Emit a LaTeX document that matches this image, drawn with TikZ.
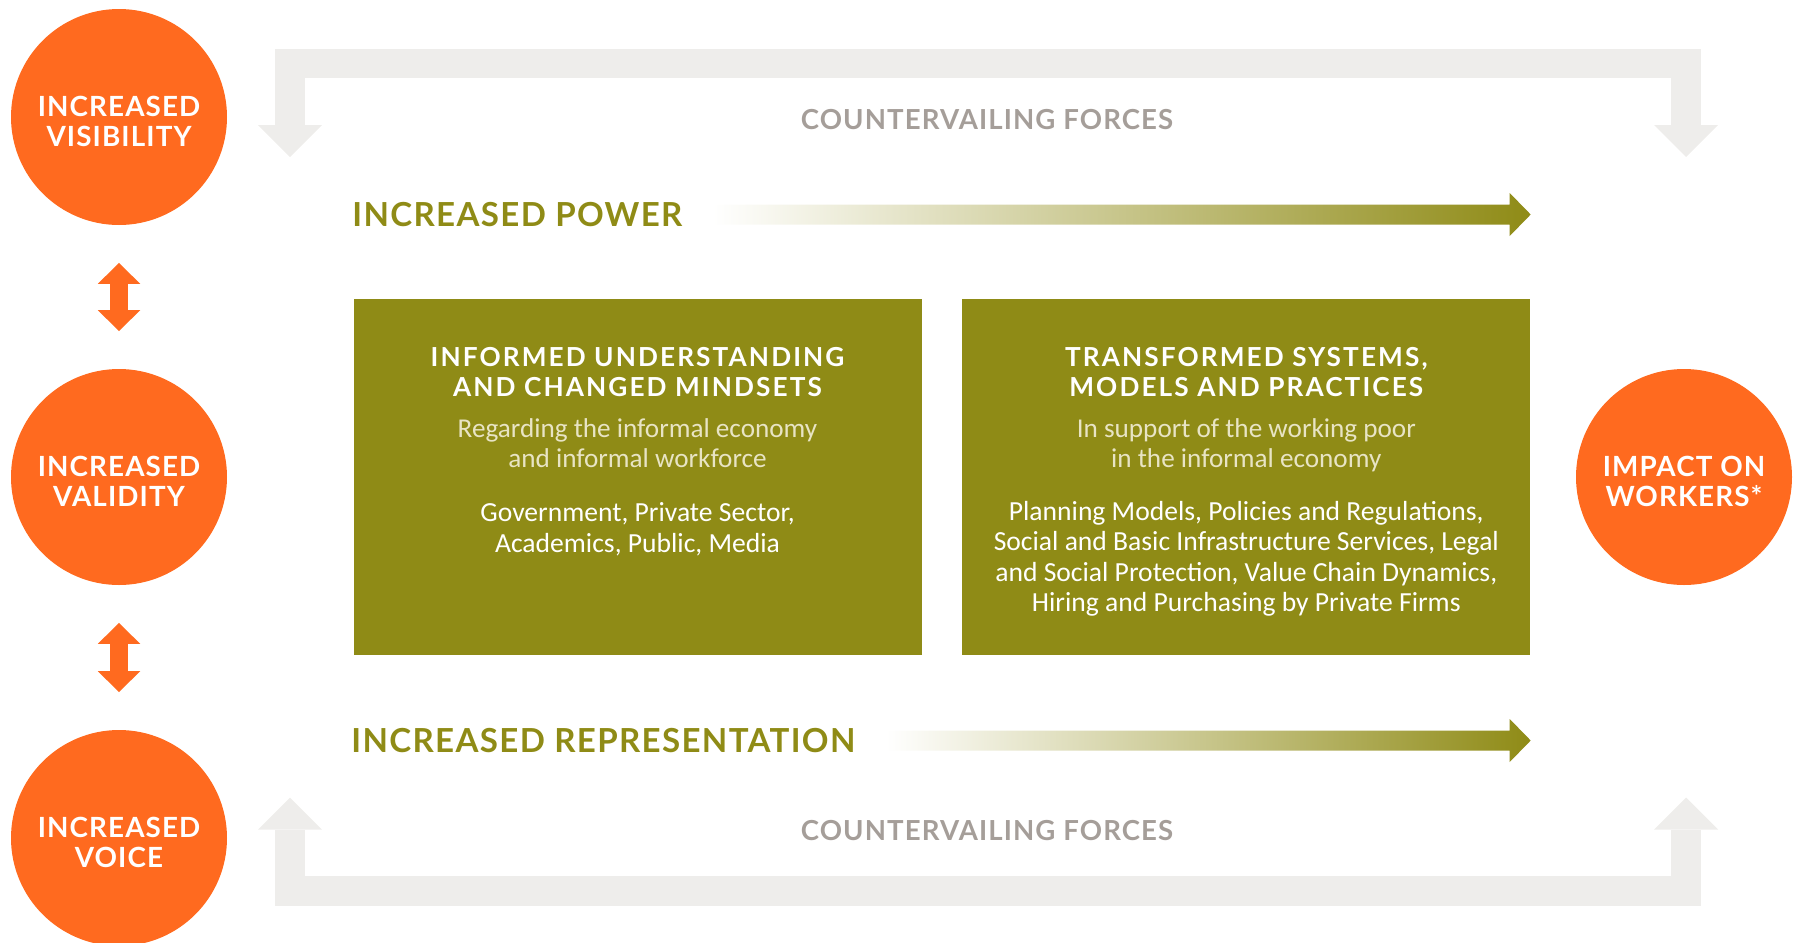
\documentclass[tikz,border=0pt]{standalone}
\usepackage{fontspec}
\setmainfont{Carlito}
\newfontfamily\latofont{Lato}[LetterSpace=4]
\usetikzlibrary{arrows.meta,positioning}

\definecolor{wiegoorange}{HTML}{FF6A1F}
\definecolor{wiegoolive}{HTML}{8F8B16}
\definecolor{forcegrey}{HTML}{EEEDEB}
\definecolor{forcetext}{HTML}{A59E99}
\definecolor{softtext}{HTML}{E8E4C4}

% lowers the two lines a little inside the circles
\newcommand\outtop{\rule{0pt}{14.4pt}}

\begin{document}
\begin{tikzpicture}[
  x = 0.5pt, y = -0.5pt,
  outcome/.style = {circle, fill = wiegoorange, minimum size = 108pt, inner sep = 0pt,
                    text = white, align = center,
                    font = \latofont\bfseries\fontsize{13.9}{15}\selectfont},
  change/.style = {fill = wiegoolive, minimum width = 284pt, minimum height = 178pt, inner sep = 0pt},
  boxhead/.style = {inner sep = 0pt, text = white, align = center,
                    font = \latofont\bfseries\addfontfeatures{LetterSpace=8}\fontsize{13.1}{15}\selectfont},
  boxsoft/.style = {inner sep = 0pt, text = softtext, align = center,
                    font = \fontsize{13.6}{15}\selectfont},
  boxbody/.style = {inner sep = 0pt, text = white, align = center,
                    font = \fontsize{13.8}{15.3}\selectfont},
  driver/.style = {inner sep = 0pt, text = wiegoolive, anchor = west,
                   font = \latofont\bfseries\fontsize{16.55}{19}\selectfont},
  forcelabel/.style = {inner sep = 0pt, text = forcetext,
                       font = \latofont\bfseries\fontsize{13.8}{16}\selectfont},
  force/.style = {draw = forcegrey, line width = 14.75pt, line join = miter,
                  {Triangle[width = 32pt, length = 16pt, line width = 0pt]}-{Triangle[width = 32pt, length = 16pt, line width = 0pt]}},
  link/.style = {draw = wiegoorange, line width = 9.3pt, shorten > = 18.75pt, shorten < = 18.75pt,
                 {Triangle[width = 21.25pt, length = 10.5pt, line width = 0pt]}-{Triangle[width = 21.25pt, length = 10.5pt, line width = 0pt]}},
  growth/.style = {left color = white, right color = wiegoolive}
  ]
  \useasboundingbox (0,0) rectangle (1795,943);

  % countervailing forces
  \coordinate (force tl) at (290,157);
  \coordinate (force tr) at (1686,157);
  \coordinate (force bl) at (290,797.5);
  \coordinate (force br) at (1686,797.5);
  \draw[force] (force tl) -- ++(0,-93.5) -| (force tr);
  \draw[force] (force bl) -- ++(0,93.5) -| (force br);
  \node[forcelabel] (force top) at (987,120) {COUNTERVAILING FORCES};
  \node[forcelabel] (force bottom) at (987,831) {COUNTERVAILING FORCES};

  % outcomes
  \node[outcome] (vis) at (119,117) {\outtop INCREASED\\VISIBILITY};
  \node[outcome] (val) at (119,477) {\outtop INCREASED\\VALIDITY};
  \node[outcome] (voice) at (119,838) {\outtop INCREASED\\VOICE};
  \node[outcome] (impact) at (1684,477) {\outtop IMPACT ON\\WORKERS*};
  \draw[link] (vis) -- (val);
  \draw[link] (val) -- (voice);

  % the two changes
  \node[change] (know) at (637.5,477) {};
  \node[change, right = 20pt of know] (system) {};
  \node[boxhead, below = 24pt of know.north] (know head) {INFORMED UNDERSTANDING\\AND CHANGED MINDSETS};
  \node[boxsoft, below = 60pt of know.north] (know soft) {Regarding the informal economy\\and informal workforce};
  \node[boxbody, below = 102pt of know.north] (know body) {Government, Private Sector,\\Academics, Public, Media};
  \node[boxhead, below = 24pt of system.north] (system head) {TRANSFORMED SYSTEMS,\\MODELS AND PRACTICES};
  \node[boxsoft, below = 60pt of system.north] (system soft) {In support of the working poor\\in the informal economy};
  \node[boxbody, below = 101pt of system.north] (system body) {Planning Models, Policies and Regulations,\\Social and Basic Infrastructure Services, Legal\\and Social Protection, Value Chain Dynamics,\\Hiring and Purchasing by Private Firms};

  % power and representation
  \node[driver] (power) at (352,214.5) {INCREASED POWER};
  \coordinate (power start) at ([xshift = 15pt]power.east);
  \coordinate (power end) at (power -| system.east);
  \shade[growth] ([yshift = 5pt]power start) -| ([xshift = -10.5pt, yshift = 10.75pt]power end)
    -- (power end) -- ([xshift = -10.5pt, yshift = -10.75pt]power end) |- ([yshift = -5pt]power start) -- cycle;

  \node[driver] (repr) at (351,740.5) {INCREASED REPRESENTATION};
  \coordinate (repr start) at ([xshift = 15pt]repr.east);
  \coordinate (repr end) at (repr -| system.east);
  \shade[growth] ([yshift = 5pt]repr start) -| ([xshift = -10.5pt, yshift = 10.75pt]repr end)
    -- (repr end) -- ([xshift = -10.5pt, yshift = -10.75pt]repr end) |- ([yshift = -5pt]repr start) -- cycle;
\end{tikzpicture}
\end{document}
